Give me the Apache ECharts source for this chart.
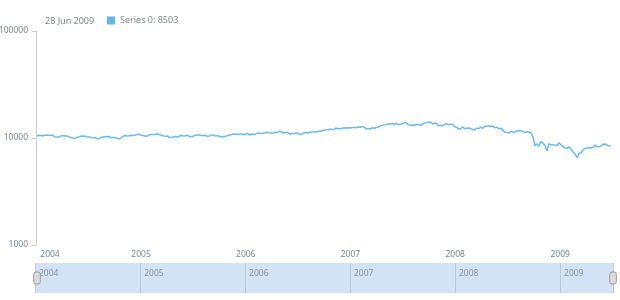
<!DOCTYPE html>
<html>
<head>
<meta charset="utf-8">
<script src="https://cdn.jsdelivr.net/npm/echarts@6/dist/echarts.min.js"></script>
<style>html,body{margin:0;padding:0;background:#fff}#c{width:620px;height:300px}</style>
</head>
<body>
<div id="c"></div>
<script>
// Weekly points, each dated by the Sunday that starts its week
const firstWeek = '2004-01-04';
const seriesName = 'Series 0';
const values2004 = [10458,10600,10568,10488,10593,10628,10620,10584,10596,10240,10186,10212,10470,10515,10452,10472,10226,10118,10012,9967,10188,10242,10410,10416,10371,10282,10214,10140,9962,10140,9815,9825,10110,10196,10260,10314,10284,10047,10192,10055,9933,9757,10027,10387,10539,10456,10522,10592,10543,10661,10828,10783];
const values2005 = [10603,10558,10393,10427,10716,10796,10785,10841,10941,10774,10629,10442,10404,10461,10088,10157,10193,10345,10140,10471,10542,10460,10513,10623,10297,10303,10449,10640,10651,10641,10559,10600,10559,10397,10447,10679,10641,10420,10569,10292,10287,10215,10403,10531,10686,10766,10931,10877,10778,10875,10883,10718];
const values2006 = [10959,10960,10667,10908,10793,10919,11115,11062,11022,11076,11279,11280,11109,11120,11137,11347,11367,11577,11380,11144,11278,11247,10891,11015,10989,11150,11091,10739,10868,11219,11240,11088,11381,11284,11464,11392,11560,11508,11679,11850,11960,12002,12090,11986,12108,12342,12280,12194,12307,12445,12343,12463];
const values2007 = [12398,12556,12566,12488,12654,12581,12768,12647,12114,12277,12110,12481,12354,12561,12612,12962,13120,13264,13326,13556,13507,13668,13424,13639,13361,13409,13612,13908,13851,13265,13182,13240,13079,13379,13358,13114,13443,13821,13896,14066,14093,13522,13807,13596,13043,13177,12980,13372,13625,13339,13451,13366];
const values2008 = [12800,12606,12099,12207,12743,12182,12348,12381,12266,11894,11951,12361,12216,12609,12325,12849,12891,13058,12745,12986,12480,12638,12209,12307,11843,11346,11288,11100,11496,11370,11326,11734,11659,11628,11543,11220,11421,11388,11143,10325,8451,8852,8378,9325,8943,8497,7552,8829,8635,8629,8579,8515];
const values2009 = [9034,8599,8281,8077,8001,8280,7850,7366,7063,6547,7224,7279,7776,8018,8083,8131,8076,8212,8575,8268,8277,8500,8764,8799,8539,8438,8503];
const yTicks = [1000, 10000, 100000];
const xMin = '2004-01-01';
const xMax = '2009-07-04';
const monthNames = ['Jan','Feb','Mar','Apr','May','Jun','Jul','Aug','Sep','Oct','Nov','Dec'];

const values = [].concat(values2004, values2005, values2006, values2007, values2008, values2009);
const DAY = 86400000;
const t0 = Date.parse(firstWeek + 'T00:00:00Z');
const points = values.map((v, i) => [t0 + i * 7 * DAY, v]);
const last = points[points.length - 1];
const lastDate = new Date(last[0]);
const lastLabel = lastDate.getUTCDate() + ' ' + monthNames[lastDate.getUTCMonth()] + ' ' + lastDate.getUTCFullYear();
const minTs = Date.parse(xMin + 'T00:00:00Z');
const maxTs = Date.parse(xMax + 'T00:00:00Z');
const firstYear = String(new Date(minTs).getUTCFullYear());

const grey = '#7c868e';
const font = 'Noto Sans';

function yearOf(value) {
  const d = new Date(+value);
  if (d.getUTCMonth() !== 0 || d.getUTCDate() !== 1 || d.getUTCHours() !== 0) return '';
  return String(d.getUTCFullYear());
}
function mainYearLabel(value) {
  const y = yearOf(value);
  if (!y) return '';
  return y === firstYear ? '{p|' + y + '}' : y;
}

const chart = echarts.init(document.getElementById('c'), null, {renderer: 'canvas'});
chart.setOption({
  animation: false,
  useUTC: true,
  title: {
    text: lastLabel, left: 40, top: 12,
    textStyle: {fontFamily: font, fontSize: 9, fontWeight: 'normal', color: grey}
  },
  legend: {
    left: 102, top: 11, itemWidth: 8, itemHeight: 8, icon: 'rect',
    textStyle: {fontFamily: font, fontSize: 9, color: grey},
    formatter: name => name + ': ' + last[1],
    data: [seriesName]
  },
  grid: [
    {left: 36, right: 7, top: 31, bottom: 55, outerBoundsMode: 'none', containLabel: false},
    {left: 35, right: 7, top: 263, height: 30, show: true, backgroundColor: '#d3e3f5', borderWidth: 0, outerBoundsMode: 'none', containLabel: false}
  ],
  xAxis: [
    {
      type: 'time', gridIndex: 0, min: minTs, max: maxTs,
      axisLine: {show: false}, axisTick: {show: false}, splitLine: {show: false},
      axisLabel: {
        color: grey, fontFamily: font, fontSize: 8.5, margin: 5, hideOverlap: false,
        formatter: mainYearLabel,
        rich: {p: {padding: [0, 0, 0, 28], color: grey, fontFamily: font, fontSize: 8.5}}
      }
    },
    {
      type: 'time', gridIndex: 1, min: minTs, max: maxTs, position: 'top',
      axisLine: {show: false}, axisTick: {show: false},
      splitLine: {show: true, lineStyle: {color: '#b9c6d4', width: 1}},
      axisLabel: {
        inside: true, color: '#8a939b', fontFamily: font, fontSize: 8.5, margin: 6, align: 'left', padding: [0, 0, 0, 4], hideOverlap: false,
        formatter: yearOf
      }
    }
  ],
  yAxis: [
    {
      type: 'log', logBase: 10, gridIndex: 0, min: yTicks[0], max: yTicks[yTicks.length - 1],
      axisLine: {show: true, lineStyle: {color: '#cccccc'}},
      axisTick: {show: true, length: 4, lineStyle: {color: '#cccccc'}},
      splitLine: {show: false}, minorTick: {show: false},
      axisLabel: {color: grey, fontFamily: font, fontSize: 8.5, margin: 8, formatter: v => String(Math.round(v))}
    },
    {type: 'value', gridIndex: 1, show: false}
  ],
  dataZoom: [{
    type: 'slider', xAxisIndex: 0, filterMode: 'none', start: 0, end: 100,
    left: 35, right: 7, top: 263, height: 30,
    backgroundColor: 'transparent', borderColor: 'transparent', fillerColor: 'transparent',
    showDataShadow: false, showDetail: false, brushSelect: false, moveHandleSize: 0,
    moveHandleStyle: {opacity: 0},
    handleIcon: 'path://M2,0H4A2,2,0,0,1,6,2V9A2,2,0,0,1,4,11H2A2,2,0,0,1,0,9V2A2,2,0,0,1,2,0Z',
    handleSize: 12,
    handleStyle: {color: '#dcdcdc', borderColor: '#9a9a9a', borderWidth: 1},
    dataBackground: {lineStyle: {opacity: 0}, areaStyle: {opacity: 0}},
    selectedDataBackground: {lineStyle: {opacity: 0}, areaStyle: {opacity: 0}},
    z: 10
  }],
  series: [{
    name: seriesName, type: 'line', xAxisIndex: 0, yAxisIndex: 0,
    data: points, showSymbol: false, symbol: 'none',
    lineStyle: {color: '#6cb9f6', width: 1.5},
    itemStyle: {color: '#64b5f6'}
  }]
});
</script>
</body>
</html>
